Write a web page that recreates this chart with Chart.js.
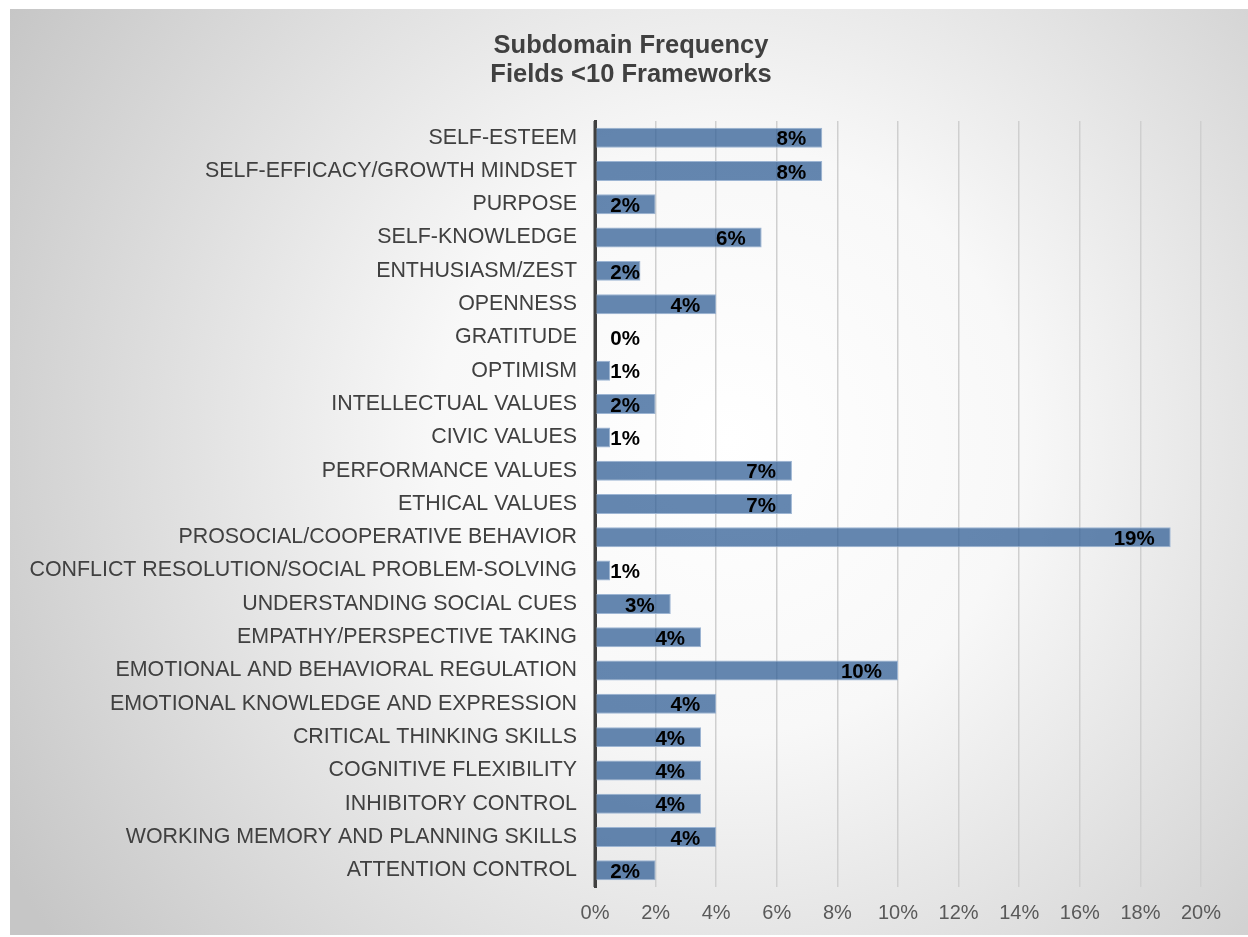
<!DOCTYPE html>
<html>
<head>
<meta charset="utf-8">
<script src="https://cdn.jsdelivr.net/npm/chart.js@4.4.1/dist/chart.umd.min.js"></script>
<style>
  html, body { margin: 0; padding: 0; background: #ffffff; }
  #wrap { width: 1248px; height: 937px; position: relative; }
</style>
</head>
<body>
<div id="wrap"><canvas id="c" width="1248" height="937"></canvas></div>
<script>
const categories = [
  "SELF-ESTEEM",
  "SELF-EFFICACY/GROWTH MINDSET",
  "PURPOSE",
  "SELF-KNOWLEDGE",
  "ENTHUSIASM/ZEST",
  "OPENNESS",
  "GRATITUDE",
  "OPTIMISM",
  "INTELLECTUAL VALUES",
  "CIVIC VALUES",
  "PERFORMANCE VALUES",
  "ETHICAL VALUES",
  "PROSOCIAL/COOPERATIVE BEHAVIOR",
  "CONFLICT RESOLUTION/SOCIAL PROBLEM-SOLVING",
  "UNDERSTANDING SOCIAL CUES",
  "EMPATHY/PERSPECTIVE TAKING",
  "EMOTIONAL AND BEHAVIORAL REGULATION",
  "EMOTIONAL KNOWLEDGE AND EXPRESSION",
  "CRITICAL THINKING SKILLS",
  "COGNITIVE FLEXIBILITY",
  "INHIBITORY CONTROL",
  "WORKING MEMORY AND PLANNING SKILLS",
  "ATTENTION CONTROL"
];
// percent values
const frequency = [7.5, 7.5, 2, 5.5, 1.5, 4, 0, 0.5, 2, 0.5, 6.5, 6.5, 19, 0.5, 2.5, 3.5, 10, 4, 3.5, 3.5, 3.5, 4, 2];
const valueLabels = ["8%","8%","2%","6%","2%","4%","0%","1%","2%","1%","7%","7%","19%","1%","3%","4%","10%","4%","4%","4%","4%","4%","2%"];
const xTicks = [0, 2, 4, 6, 8, 10, 12, 14, 16, 18, 20];
const titleLines = ["Subdomain Frequency", "Fields <10 Frameworks"];

const FONT = "'Liberation Sans', Arial, sans-serif";

const bgPlugin = {
  id: 'bg',
  beforeDraw(chart) {
    const ctx = chart.ctx;
    ctx.save();
    ctx.fillStyle = '#ffffff';
    ctx.fillRect(0, 0, chart.width, chart.height);
    const g = ctx.createRadialGradient(730, 440, 0, 730, 440, 840);
    g.addColorStop(0, '#ffffff');
    g.addColorStop(0.35, '#f8f8f8');
    g.addColorStop(1, '#c6c6c6');
    ctx.fillStyle = g;
    ctx.fillRect(10, 9, chart.width - 10, chart.height - 11);
    // title
    ctx.fillStyle = '#404040';
    ctx.font = "bold 25.5px " + FONT;
    ctx.textAlign = 'center';
    ctx.textBaseline = 'middle';
    ctx.fillText(titleLines[0], 631, 46);
    ctx.fillText(titleLines[1], 631, 75);
    ctx.restore();
  }
};

const labelPlugin = {
  id: 'vlabels',
  afterDatasetsDraw(chart) {
    const ctx = chart.ctx;
    const meta = chart.getDatasetMeta(0);
    const x0 = chart.scales.x.getPixelForValue(0);
    ctx.save();
    ctx.strokeStyle = '#404040';
    ctx.lineWidth = 3;
    ctx.beginPath();
    ctx.moveTo(chart.chartArea.left, chart.chartArea.top);
    ctx.lineTo(chart.chartArea.left, chart.chartArea.bottom);
    ctx.stroke();
    ctx.font = "bold 20.5px " + FONT;
    ctx.fillStyle = '#000000';
    ctx.textAlign = 'right';
    ctx.textBaseline = 'middle';
    meta.data.forEach((bar, i) => {
      const xr = Math.max(bar.x - 16, x0 + 45);
      ctx.fillText(valueLabels[i], xr, bar.y + 2);
    });
    ctx.restore();
  }
};

new Chart(document.getElementById('c'), {
  type: 'bar',
  data: {
    labels: categories,
    datasets: [{
      data: frequency,
      backgroundColor: 'rgba(50,95,150,0.75)',
      borderColor: '#9db5d3',
      borderWidth: 1,
      borderSkipped: false,
      categoryPercentage: 0.8,
      barPercentage: 0.75
    }]
  },
  options: {
    indexAxis: 'y',
    responsive: false,
    animation: false,
    layout: { padding: { left: 0, right: 47, top: 121, bottom: 0 } },
    plugins: {
      legend: { display: false },
      tooltip: { enabled: false },
      title: { display: false }
    },
    scales: {
      x: {
        min: 0,
        max: 20,
        afterBuildTicks(scale) { scale.ticks = xTicks.map(v => ({ value: v })); },
        afterFit(scale) { scale.height = 50; },
        grid: { color: '#cfcfcf', lineWidth: 1.5, drawTicks: false },
        border: { display: false },
        ticks: {
          padding: 14,
          color: '#595959',
          font: { family: FONT, size: 20 },
          callback: v => v + '%'
        }
      },
      y: {
        afterFit(scale) { scale.width = 595; },
        grid: { display: false, drawTicks: false },
        border: { display: true, color: '#404040', width: 3 },
        ticks: {
          padding: 18,
          color: '#404040',
          font: { family: FONT, size: 21.4 },
          autoSkip: false
        }
      }
    }
  },
  plugins: [bgPlugin, labelPlugin]
});
</script>
</body>
</html>
